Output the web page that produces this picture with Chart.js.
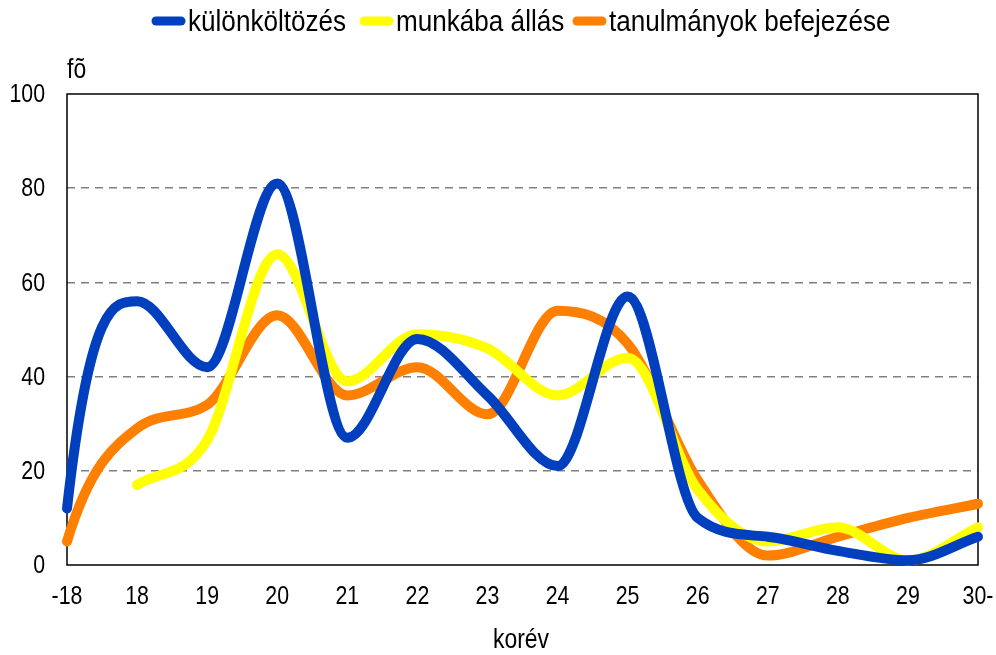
<!DOCTYPE html>
<html>
<head>
<meta charset="utf-8">
<script src="https://cdn.jsdelivr.net/npm/chart.js@4"></script>
<style>
  html, body { margin: 0; padding: 0; background: #fff; }
  #wrap { width: 996px; height: 655px; position: relative; }
</style>
</head>
<body>
<div id="wrap"><canvas id="koreviChart"></canvas></div>
<script>
// ========== DATA ========== //
const ageGroups = ["-18", "18", "19", "20", "21", "22", "23", "24", "25", "26", "27", "28", "29", "30-"];
const movingOut = [12, 56, 42, 81, 27, 48, 36, 21, 57, 10, 6, 3, 1, 6];
const startingWork = [null, 17, 26.5, 66, 39, 49, 46, 36, 44, 16, 5, 8, 1, 8];
const finishingStudies = [5, 29, 34, 53, 36, 42, 32, 54, 47, 18, 2, 6, 10, 13];
const yTicks = [0, 20, 40, 60, 80, 100];

const FONT = "'Liberation Sans', Arial, sans-serif";

// text squeezed horizontally (narrow typeface look)
function narrowText(ctx, text, x, y, squeeze) {
  ctx.save();
  ctx.translate(x, y);
  ctx.scale(squeeze, 1);
  ctx.fillText(text, 0, 0);
  ctx.restore();
}

// steeper lead-in on the first segment of each line
const leadIn = {
  id: "leadIn",
  beforeDatasetDraw(chart, args) {
    const meta = args.meta;
    const line = meta.dataset;
    line.updateControlPoints(chart.chartArea, meta.iScale.axis);
    const pts = meta.data.filter(p => !p.skip);
    if (pts.length < 2) return;
    const p0 = pts[0], p1 = pts[1];
    const dx = p1.x - p0.x;
    const d = (p1.y - p0.y) / dx;
    const m1 = (p1.y - p1.cp1y) / (p1.x - p1.cp1x);
    let m0 = 3 * d - 2 * m1;
    if (d === 0 || m0 / d < 1) m0 = d;
    p0.cp2x = p0.x + dx / 3;
    p0.cp2y = p0.y + m0 * dx / 3;
    line._path = undefined;
  }
};

// frame, tick labels, legend and axis captions
const decorations = {
  id: "decorations",
  beforeDatasetsDraw(chart) {
    const { ctx, chartArea: a } = chart;
    ctx.save();
    ctx.strokeStyle = "#000";
    ctx.lineWidth = 1.5;
    ctx.strokeRect(a.left, a.top, a.right - a.left, a.bottom - a.top);
    ctx.restore();
  },
  afterDraw(chart) {
    const { ctx, chartArea: a } = chart;
    const xs = chart.scales.x, ys = chart.scales.y;
    ctx.save();
    ctx.fillStyle = "#000";
    ctx.textBaseline = "middle";
    ctx.font = "26px " + FONT;

    // x tick labels
    ctx.textAlign = "center";
    xs.ticks.forEach((t, i) => {
      narrowText(ctx, xs.getLabelForValue(t.value), xs.getPixelForTick(i), a.bottom + 32, 0.82);
    });

    // y tick labels
    ctx.textAlign = "right";
    ys.ticks.forEach(t => {
      narrowText(ctx, String(t.value), a.left - 22, ys.getPixelForValue(t.value) + 1, 0.82);
    });

    // unit label above the y axis
    ctx.textAlign = "left";
    ctx.font = "27px " + FONT;
    narrowText(ctx, "fõ", a.left, 71, 0.85);

    // x axis caption
    ctx.textAlign = "center";
    narrowText(ctx, "korév", 521, 641, 0.85);

    // legend
    ctx.font = "30px " + FONT;
    ctx.textAlign = "left";
    const starts = [152, 360, 573];
    chart.data.datasets.forEach((ds, i) => {
      const x = starts[i];
      ctx.strokeStyle = ds.borderColor;
      ctx.lineWidth = 9;
      ctx.lineCap = "round";
      ctx.beginPath();
      ctx.moveTo(x + 4, 21);
      ctx.lineTo(x + 29, 21);
      ctx.stroke();
      narrowText(ctx, ds.label, x + 36, 23, 0.87);
    });
    ctx.restore();
  }
};

const ctx = document.getElementById("koreviChart").getContext("2d");

new Chart(ctx, {
  type: "line",
  data: {
    labels: ageGroups,
    datasets: [
      {
        label: "különköltözés",
        data: movingOut,
        borderColor: "#0040BF",
        backgroundColor: "#0040BF"
      },
      {
        label: "munkába állás",
        data: startingWork,
        borderColor: "#FFFF00",
        backgroundColor: "#FFFF00"
      },
      {
        label: "tanulmányok befejezése",
        data: finishingStudies,
        borderColor: "#FF7F00",
        backgroundColor: "#FF7F00"
      }
    ]
  },
  options: {
    responsive: true,
    maintainAspectRatio: false,
    animation: false,
    layout: { padding: { top: 94, right: 18, left: 0, bottom: 0 } },
    elements: {
      line: {
        borderWidth: 10,
        cubicInterpolationMode: "monotone",
        borderCapStyle: "round",
        borderJoinStyle: "round",
        fill: false
      },
      point: { radius: 0, hoverRadius: 0 }
    },
    datasets: { line: { clip: false, spanGaps: false } },
    plugins: {
      legend: { display: false },
      tooltip: { enabled: false }
    },
    scales: {
      x: {
        offset: false,
        grid: { display: false, drawTicks: false },
        border: { display: false },
        ticks: { display: false, autoSkip: false },
        afterFit(scale) { scale.height = 90; }
      },
      y: {
        min: 0,
        max: 100,
        afterBuildTicks(scale) { scale.ticks = yTicks.map(v => ({ value: v })); },
        grid: {
          drawTicks: false,
          color: c => (c.tick && (c.tick.value === 0 || c.tick.value === 100)) ? "rgba(0,0,0,0)" : "#808080",
          lineWidth: 1.5
        },
        border: { display: false, dash: [8, 6] },
        ticks: { display: false },
        afterFit(scale) { scale.width = 67; }
      }
    }
  },
  plugins: [leadIn, decorations]
});
</script>
</body>
</html>
